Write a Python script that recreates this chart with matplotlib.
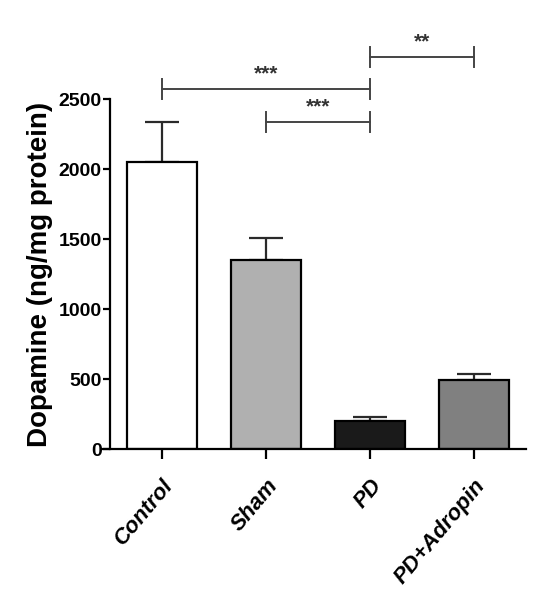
import matplotlib
matplotlib.use("Agg")
import matplotlib.pyplot as plt
from matplotlib.transforms import ScaledTranslation

plt.rcParams['font.family'] = ['Liberation Sans', 'DejaVu Sans']

categories = ["Control", "Sham", "PD", "PD+Adropin"]
means = [2050, 1350, 200, 495]
errors = [283, 158, 26, 42]
colors = ["#ffffff", "#b0b0b0", "#1a1a1a", "#808080"]

# significance comparisons: (index a, index b, bracket height, label)
comparisons = [
    (0, 2, 2570, "***"),
    (1, 2, 2335, "***"),
    (2, 3, 2798, "**"),
]

fig = plt.figure(figsize=(5.39, 6.14), dpi=100)
ax = fig.add_axes([0.204, 0.2687, 0.772, 0.57])

x = list(range(len(categories)))
ax.bar(x, means, width=0.67, color=colors, edgecolor="black", linewidth=1.6, zorder=2)
ax.errorbar(x, means, yerr=[[0] * len(errors), errors], fmt="none",
            ecolor="#2a2a2a", elinewidth=1.6, capsize=12.5, capthick=1.6, zorder=1)

ax.set_xlim(-0.5, 3.5)
ax.set_ylim(0, 2500)
ax.set_yticks([0, 500, 1000, 1500, 2000, 2500])
ax.set_xticks(x)
ax.set_xticklabels(categories, rotation=50, ha="right", va="top", rotation_mode="anchor",
                   fontsize=16, fontweight="bold", fontstyle="italic")
offset = ScaledTranslation(-4 / 72, 0, fig.dpi_scale_trans)
for lbl in ax.get_xticklabels():
    lbl.set_transform(lbl.get_transform() + offset)
for lbl in ax.get_yticklabels():
    lbl.set_fontsize(14)
    lbl.set_fontweight("bold")

ax.spines["top"].set_visible(False)
ax.spines["right"].set_visible(False)
ax.spines["left"].set_linewidth(1.6)
ax.spines["bottom"].set_linewidth(1.6)
ax.spines["bottom"].set_bounds(-0.575, 3.5)
ax.tick_params(axis="y", length=5, width=1.6, pad=1)
ax.tick_params(axis="x", length=7, width=1.6, pad=12)

ax.set_ylabel("Dopamine (ng/mg protein)", fontsize=20, fontweight="bold", labelpad=4)

tick_h = 71
for a, b, h, lab in comparisons:
    ax.plot([a, b], [h, h], color="#444444", lw=1.4, clip_on=False)
    ax.plot([a, a], [h - tick_h, h + tick_h], color="#444444", lw=1.4, clip_on=False)
    ax.plot([b, b], [h - tick_h, h + tick_h], color="#444444", lw=1.4, clip_on=False)
    ax.text((a + b) / 2, h + 72, lab, ha="center", va="baseline", fontsize=15,
            fontweight="bold", color="#333333", clip_on=False)

fig.savefig("out.png", dpi=100)
